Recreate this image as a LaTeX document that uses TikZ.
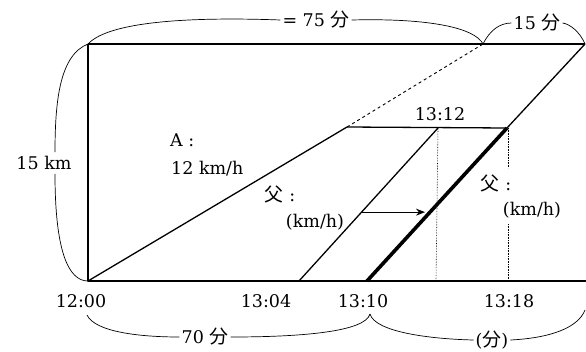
\documentclass[tikz,border=0pt]{standalone}
\usepackage{fontspec}
\setmainfont{DejaVu Serif}
\newfontfamily\cjk[Scale=1.08]{Noto Sans CJK JP}
\usetikzlibrary{arrows.meta,calc}
\begin{document}
\begin{tikzpicture}[x=1pt,y=-1pt,font=\fontsize{17.5}{21}\selectfont,line join=round]
\tikzset{
  main/.style={line width=1.3pt},
  thickline/.style={line width=3.6pt},
  bracecurve/.style={line width=0.7pt},
  lbl/.style={inner sep=0pt},
  dotline/.style={densely dotted,line width=0.6pt},
  dashline/.style={dashed,line width=0.9pt}
}
\useasboundingbox (0,0) rectangle (586,351);
% key points
\coordinate (O) at (88,281);
\coordinate (TL) at (88,44);
\coordinate (TR) at (585,44);
\coordinate (BR) at (586,281);
\coordinate (P) at (347,127);
\coordinate (D) at (483,44);
\coordinate (F1b) at (299,281);
\coordinate (F1t) at (438,128);
\coordinate (F2b) at (367,281);
\coordinate (F2t) at (507,128);
\coordinate (V1b) at (436,281);
\coordinate (V2t) at (508,128);
\coordinate (V2m) at (508,168);
\coordinate (V2n) at (508,224);
\coordinate (V2b) at (508,281);
% rectangle frame
\draw[main] (TL) -- (TR);
\draw[main] (TL) -- (O) -- (BR);
% A line and dashed extension
\draw[main] (O) -- (P);
\draw[dashline] (P) -- (D);
\draw[main] (P) -- (F2t);
% father lines
\draw[main] (F1b) -- (F1t);
\draw[thickline] (F2b) -- (F2t);
\draw[main] (F2t) -- (TR);
% dotted verticals
\draw[dotline] (F1t) -- (V1b);
\draw[dotline] (V2t) -- (V2m);
\draw[dotline] (V2n) -- (V2b);
% arrow
\coordinate (Aa) at ($(F1b)!0.45!(F1t)$);
\coordinate (Ab) at (425,212);
\draw[main,line width=1.1pt,-{Stealth[length=9pt,width=7pt]}] (Aa) -- (Ab |- Aa);
% labels
\node[lbl] (t75) at (316,20) {= 75 {\cjk 分}};
\node[lbl] (t15f) at (537,23) {15 {\cjk 分}};
\node[lbl] (t15km) at (44,163) {15 km};
\node[lbl,anchor=west] (tA) at (170,140) {A :};
\node[lbl,anchor=west] (tAv) at (171,169) {12 km/h};
\node[lbl] (tF1) at (280,194) {{\cjk 父} :};
\node[lbl] (tF1v) at (315,222) {(km/h)};
\node[lbl] (tF2) at (496,183) {{\cjk 父} :};
\node[lbl] (tF2v) at (532,210) {(km/h)};
\node[lbl] (t1312) at (440,114) {13:12};
\node[lbl] (t1200) at (81,301) {12:00};
\node[lbl] (t1304) at (266,301) {13:04};
\node[lbl] (t1310) at (363,301) {13:10};
\node[lbl] (t1318) at (509,301) {13:18};
\node[lbl] (t70) at (205,337) {70 {\cjk 分}};
\node[lbl] (tfen) at (492,340) {({\cjk 分})};
% braces
\draw[bracecurve] (TL) .. controls (110,20) and (200,17) .. ([xshift=-2pt]t75.west);
\draw[bracecurve] ([xshift=2pt]t75.east) .. controls (430,18) and (475,28) .. (D);
\draw[bracecurve] (D) .. controls (490,30) and (500,23) .. ([xshift=-2pt]t15f.west);
\draw[bracecurve] ([xshift=2pt]t15f.east) .. controls (570,24) and (580,32) .. (TR);
\draw[bracecurve] (TL) .. controls (60,55) and (55,100) .. ([yshift=4pt]t15km.north -| 55,0);
\draw[bracecurve] ([yshift=-4pt]t15km.south -| 55,0) .. controls (55,250) and (68,281) .. (O);
\coordinate (B0) at (87,315);
\coordinate (B1) at (370,314);
\coordinate (B2) at (585,310);
\draw[bracecurve] (B0) .. controls (95,332) and (140,337) .. ([xshift=-2pt]t70.west);
\draw[bracecurve] ([xshift=2pt]t70.east) .. controls (300,337) and (365,332) .. (B1);
\draw[bracecurve] (B1) .. controls (375,332) and (430,339) .. ([xshift=-2pt]tfen.west);
\draw[bracecurve] ([xshift=2pt]tfen.east) .. controls (550,338) and (578,328) .. (B2);
\end{tikzpicture}
\end{document}
